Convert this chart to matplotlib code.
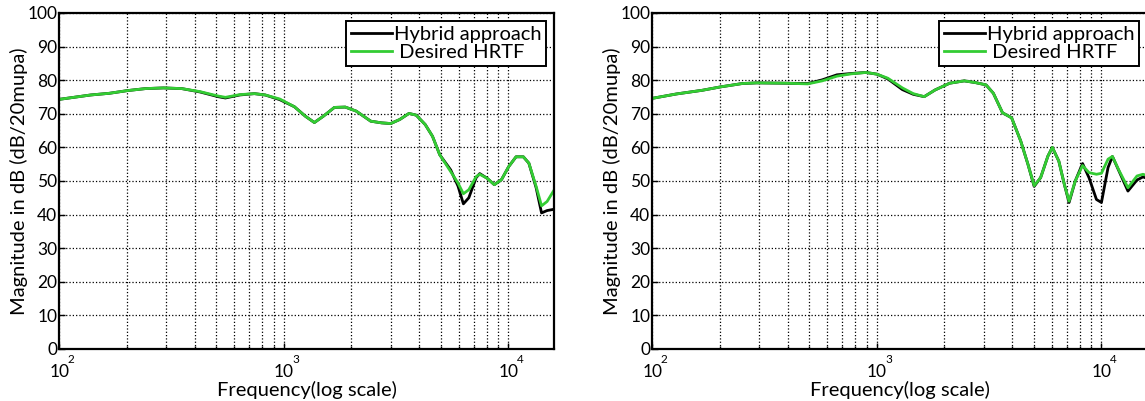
import numpy as np
import matplotlib
matplotlib.use('Agg')
import matplotlib.pyplot as plt

plt.rcParams['font.family'] = ['Lato', 'DejaVu Sans']

# left panel: frequency (Hz) and magnitudes (dB)
freq_a = [100, 138, 167, 201, 242, 291, 351, 423, 509, 549, 636, 739, 826, 959,
          1114, 1245, 1367, 1500, 1679, 1876, 2099, 2437, 2723, 2990, 3280, 3604,
          3883, 4259, 4590, 4944, 5530, 5960, 6300, 6660, 7180, 7450, 8040, 8650,
          9310, 10030, 10810, 11650, 12330, 13280, 14040, 14860, 16000]
desired_a = [74.3, 75.6, 76.1, 76.9, 77.5, 77.7, 77.5, 76.6, 75.3, 74.9, 75.7, 76.0,
             75.6, 74.4, 72.1, 69.3, 67.4, 69.3, 71.9, 72.0, 70.8, 67.8, 67.3, 67.1,
             68.3, 70.1, 69.6, 66.8, 63.3, 57.8, 52.8, 49.4, 46.2, 47.4, 51.3, 52.0,
             50.8, 48.9, 50.4, 54.3, 57.2, 57.2, 55.3, 48.4, 42.6, 43.9, 47.4]
hybrid_a = [74.3, 75.6, 76.1, 76.9, 77.5, 77.7, 77.5, 76.5, 75.1, 74.7, 75.6, 76.0,
            75.6, 74.2, 72.1, 69.3, 67.4, 69.3, 71.9, 72.0, 70.8, 67.8, 67.3, 67.1,
            68.3, 70.1, 69.6, 66.8, 63.3, 57.8, 53.3, 48.5, 43.2, 45.0, 51.0, 52.2,
            50.8, 48.9, 50.4, 54.3, 57.2, 57.2, 55.3, 48.0, 40.5, 41.2, 41.6]

# right panel
freq_b = [100, 128, 167, 201, 251, 292, 393, 492, 571, 664, 771, 894, 1000, 1118,
          1299, 1452, 1625, 1817, 2109, 2449, 2739, 3063, 3302, 3626, 3981, 4370,
          4705, 5016, 5360, 5775, 6043, 6460, 6834, 7175, 7645, 8240, 8800, 9500,
          10000, 10700, 11190, 12000, 13120, 14400, 15300, 16000]
desired_b = [74.6, 75.9, 77.0, 78.0, 79.0, 79.2, 79.1, 78.9, 79.8, 81.2, 81.9, 82.3,
             81.8, 80.6, 77.7, 76.0, 75.1, 77.1, 79.1, 79.8, 79.3, 78.6, 76.1, 70.3,
             68.8, 61.9, 55.0, 48.6, 51.0, 57.4, 60.0, 55.9, 49.0, 44.0, 50.0, 54.6,
             52.5, 52.0, 52.3, 56.5, 57.3, 53.0, 48.0, 51.5, 52.0, 51.6]
hybrid_b = [74.6, 75.9, 77.0, 78.0, 79.0, 79.2, 79.1, 79.0, 80.1, 81.6, 82.0, 82.3,
            81.8, 80.4, 77.2, 75.8, 75.1, 77.1, 79.1, 79.8, 79.3, 78.6, 76.1, 70.3,
            68.8, 61.9, 55.0, 48.4, 51.0, 57.4, 60.0, 55.9, 49.0, 43.6, 50.0, 55.2,
            51.0, 44.5, 43.6, 54.0, 57.3, 52.8, 47.0, 50.3, 51.2, 50.8]

y_ticks = list(range(0, 101, 10))
decades = [100, 1000, 10000]
exponents = ['2', '3', '4']

fig = plt.figure(figsize=(11.45, 4.01), dpi=100)
ax1 = fig.add_axes([0.0518, 0.1297, 0.4323, 0.8379])
ax2 = fig.add_axes([0.5697, 0.1297, 0.4323, 0.8379])

green = '#33cc33'
for ax, f, hyb, des in [(ax1, freq_a, hybrid_a, desired_a),
                        (ax2, freq_b, hybrid_b, desired_b)]:
    ax.plot(f, hyb, color='black', lw=2, label='Hybrid approach')
    ax.plot(f, des, color=green, lw=2, label=' Desired HRTF')
    ax.set_xscale('log')
    ax.set_xlim(100, 16000)
    ax.set_ylim(0, 100)
    ax.set_yticks(y_ticks)
    ax.set_yticklabels([str(v) for v in y_ticks], fontsize=12.5)
    ax.set_xticks(decades)
    ax.set_xticklabels(['' for _ in decades])
    ax.tick_params(axis='both', which='both', direction='in', length=4, width=1, pad=1.5)
    ax.tick_params(axis='x', which='minor', length=2)
    ax.grid(True, which='major', axis='y', linestyle=':', color='black', lw=0.9)
    ax.grid(True, which='both', axis='x', linestyle=':', color='black', lw=0.9)
    for s in ax.spines.values():
        s.set_linewidth(1.6)
    for d, e in zip(decades, exponents):
        ax.annotate('10', xy=(d, 0), xycoords=('data', 'axes fraction'),
                    xytext=(0, -16.5), textcoords='offset points',
                    ha='center', va='center', fontsize=12.5)
        ax.annotate(e, xy=(d, 0), xycoords=('data', 'axes fraction'),
                    xytext=(8.5, -7.5), textcoords='offset points',
                    ha='center', va='center', fontsize=8.5)
    ax.text(0.5, -41 / 336, 'Frequency(log scale)', transform=ax.transAxes,
            ha='center', va='center', fontsize=14.5)
    ax.text(-40 / 495, 0.5, 'Magnitude in dB (dB/20mupa)', transform=ax.transAxes,
            ha='center', va='center', rotation=90, fontsize=14.5)
    leg = ax.legend(loc='upper right', fontsize=14.5, fancybox=False, framealpha=1,
                    edgecolor='black', handlelength=2.0, handletextpad=0.1,
                    borderpad=0.25, labelspacing=0.05, borderaxespad=0.4)
    leg.get_frame().set_linewidth(1.4)

fig.savefig('out.png', dpi=100)
